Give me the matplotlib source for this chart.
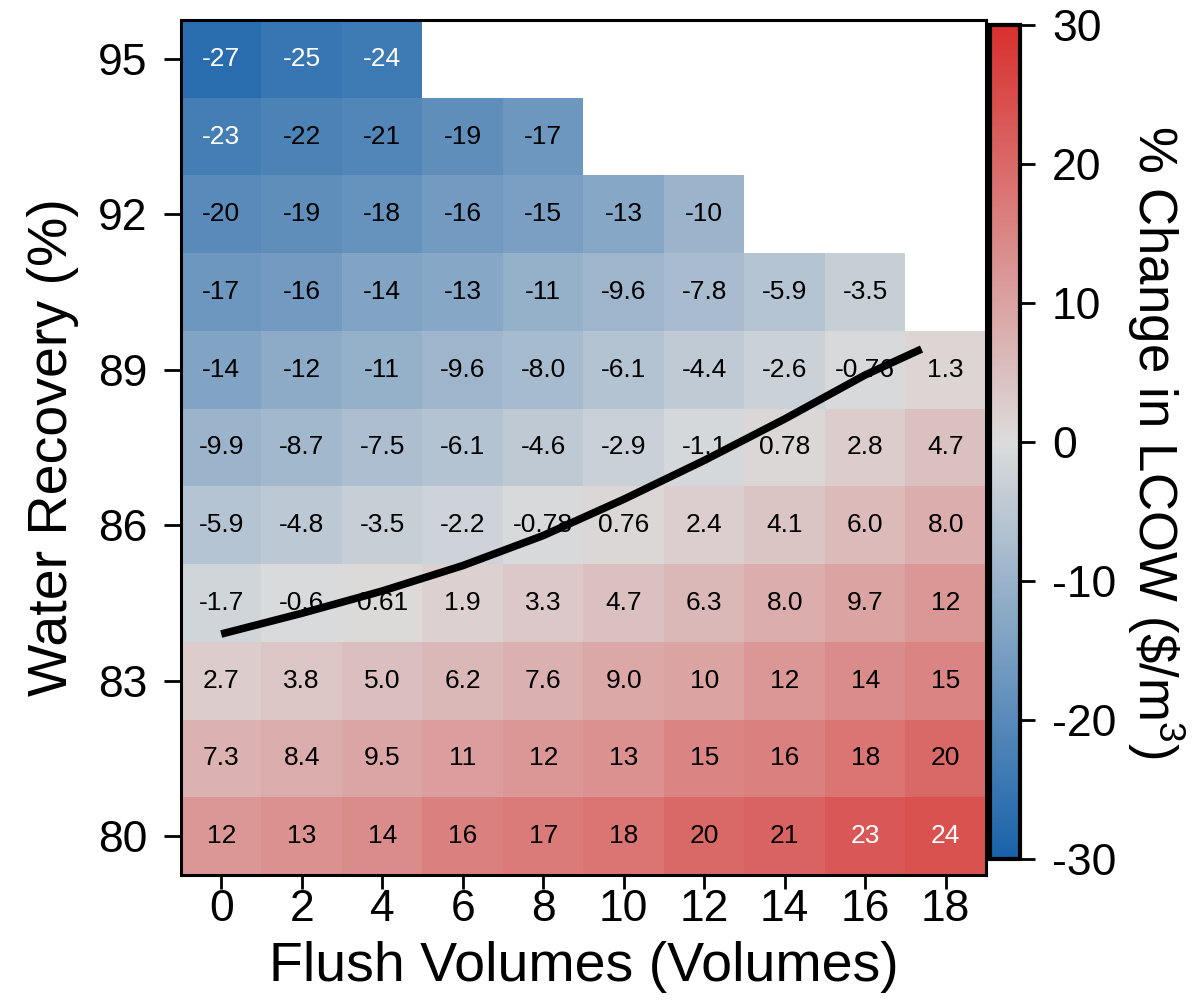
import numpy as np
import matplotlib
matplotlib.use("Agg")
import matplotlib.pyplot as plt
from matplotlib.colors import LinearSegmentedColormap

plt.rcParams['font.family'] = ['Liberation Sans', 'DejaVu Sans']
plt.rcParams['mathtext.fontset'] = 'custom'
plt.rcParams['mathtext.rm'] = 'Liberation Sans'
plt.rcParams['mathtext.it'] = 'Liberation Sans'
plt.rcParams['axes.unicode_minus'] = False

# flush volumes (columns) and water recovery (rows, top to bottom)
flush = [0, 2, 4, 6, 8, 10, 12, 14, 16, 18]
recovery = [95, 93.5, 92, 90.5, 89, 87.5, 86, 84.5, 83, 81.5, 80]

# % change in LCOW, as printed in each cell (missing cells left out)
row_95 = ["-27", "-25", "-24"]
row_935 = ["-23", "-22", "-21", "-19", "-17"]
row_92 = ["-20", "-19", "-18", "-16", "-15", "-13", "-10"]
row_905 = ["-17", "-16", "-14", "-13", "-11", "-9.6", "-7.8", "-5.9", "-3.5"]
row_89 = ["-14", "-12", "-11", "-9.6", "-8.0", "-6.1", "-4.4", "-2.6", "-0.76", "1.3"]
row_875 = ["-9.9", "-8.7", "-7.5", "-6.1", "-4.6", "-2.9", "-1.1", "0.78", "2.8", "4.7"]
row_86 = ["-5.9", "-4.8", "-3.5", "-2.2", "-0.78", "0.76", "2.4", "4.1", "6.0", "8.0"]
row_845 = ["-1.7", "-0.6", "0.61", "1.9", "3.3", "4.7", "6.3", "8.0", "9.7", "12"]
row_83 = ["2.7", "3.8", "5.0", "6.2", "7.6", "9.0", "10", "12", "14", "15"]
row_815 = ["7.3", "8.4", "9.5", "11", "12", "13", "15", "16", "18", "20"]
row_80 = ["12", "13", "14", "16", "17", "18", "20", "21", "23", "24"]
rows = [row_95, row_935, row_92, row_905, row_89, row_875,
        row_86, row_845, row_83, row_815, row_80]

# break-even curve
line_x = [0, 2, 4, 6, 8, 10, 12, 14, 16, 17.4]
line_y = [83.9, 84.3, 84.73, 85.22, 85.8, 86.5, 87.25, 88.05, 88.9, 89.4]

ncol = len(flush)
Z = np.full((len(recovery), ncol), np.nan)
for i, r in enumerate(rows):
    for j, s in enumerate(r):
        Z[i, j] = float(s)

cmap = LinearSegmentedColormap.from_list("lcow", ["#1862a9", "#dcdcdc", "#d8302e"])

fig = plt.figure(figsize=(12, 10.01), dpi=100)
ax = fig.add_axes([0.1508, 0.1259, 0.6708, 0.8541])
cax = fig.add_axes([0.825, 0.1419, 0.025, 0.8332])

xe = np.concatenate([[flush[0] - 1], np.array(flush) + 1])
ye = np.concatenate([[recovery[-1] - 0.75], np.array(recovery[::-1]) + 0.75])
mesh = ax.pcolormesh(xe, ye, Z[::-1], cmap=cmap, vmin=-30, vmax=30)

for i, r in enumerate(rows):
    for j, s in enumerate(r):
        v = float(s)
        col = 'white' if abs(v) > 22.5 else 'black'
        ax.text(flush[j], recovery[i], s, ha='center', va='center',
                fontsize=19, color=col)

ax.plot(line_x, line_y, color='black', lw=5.5, solid_capstyle='butt')

ax.set_xlim(xe[0], xe[-1])
ax.set_ylim(ye[0], ye[-1])
ax.set_xticks(flush)
ax.set_yticks([80, 83, 86, 89, 92, 95])
ax.tick_params(axis='x', labelsize=32, width=2, length=10, pad=0)
ax.tick_params(axis='y', labelsize=32, width=2, length=12, pad=12)
for sp in ax.spines.values():
    sp.set_linewidth(2.2)
ax.set_xlabel("Flush Volumes (Volumes)", fontsize=40, labelpad=8)
ax.set_ylabel("Water Recovery (%)", fontsize=40, labelpad=14)

cb = fig.colorbar(mesh, cax=cax)
cb.set_ticks([-30, -20, -10, 0, 10, 20, 30])
cb.ax.tick_params(labelsize=32, width=2, length=11, pad=12)
cb.outline.set_linewidth(3)
cb.set_label("% Change in LCOW (\\$/m$^3$)", fontsize=38, rotation=270,
             va='bottom', labelpad=6)

fig.savefig("out.png", dpi=100)
